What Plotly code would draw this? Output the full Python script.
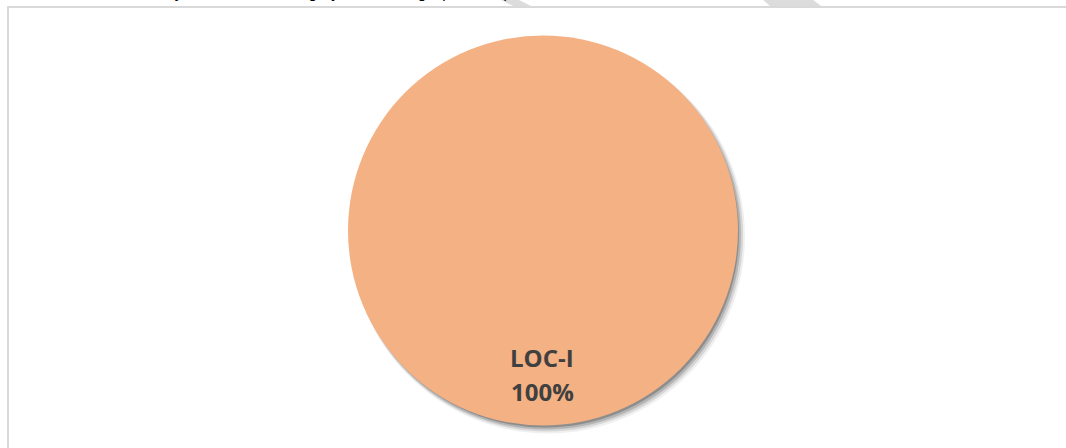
import plotly.graph_objects as go

# Data
categories = ["LOC-I"]
shares = [100]
pie_color = "#F4B183"
title_text = "Fatal Accidents by Occurrence Category - Percentage (2015-19)"

W, H = 1066, 448

def px(x):
    return x / W

def py(y):
    return 1 - y / H

cx, cy, r = 543, 230.5, 195

fig = go.Figure()

# soft drop shadow (layered copies of the same pie)
for dx, dy, dr, op in [(5, 6, 2, 0.08), (4, 5, 1, 0.14), (3, 4, 0, 0.22), (2, 3, -1, 0.32)]:
    rr = r + dr
    fig.add_trace(go.Pie(
        labels=categories, values=shares, sort=False,
        marker=dict(colors=["rgba(60,60,60,%.2f)" % op], line=dict(width=0)),
        textinfo="none", hoverinfo="skip", showlegend=False,
        domain=dict(x=[px(cx + dx - rr), px(cx + dx + rr)],
                    y=[py(cy + dy + rr), py(cy + dy - rr)]),
    ))

fig.add_trace(go.Pie(
    labels=categories, values=shares, sort=False,
    marker=dict(colors=[pie_color], line=dict(width=0)),
    textinfo="none", showlegend=False,
    domain=dict(x=[px(cx - r), px(cx + r)], y=[py(cy + r), py(cy - r)]),
))

total = sum(shares)
lab_font = dict(family="'Open Sans', Lato, sans-serif", size=24, color="#404040")
fig.add_annotation(x=px(542), y=py(376), xref="paper", yref="paper",
                   text="<b>%s</b>" % categories[0], showarrow=False, font=lab_font)
fig.add_annotation(x=px(542), y=py(410), xref="paper", yref="paper",
                   text="<b>%d%%</b>" % round(100 * shares[0] / total), showarrow=False, font=lab_font)

# cut-off title at the very top
fig.add_annotation(x=px(511), y=py(-8), xref="paper", yref="paper", xanchor="right",
                   yanchor="middle", text=title_text, showarrow=False,
                   font=dict(family="Liberation Sans, Arial", size=16, color="#000000"))

shapes = [
    # chart border
    dict(type="rect", xref="paper", yref="paper", x0=px(8), x1=px(1075), y0=py(460), y1=py(7),
         line=dict(color="#D9D9D9", width=2), fillcolor="rgba(0,0,0,0)", layer="below"),
    # watermark fragments
    dict(type="path", xref="paper", yref="paper",
         path="M %f %f L %f %f L %f %f L %f %f Z" % (px(499), py(-1), px(517), py(-1), px(531), py(6), px(513), py(6)),
         fillcolor="#DCDCDC", line=dict(width=0), layer="below"),
    dict(type="path", xref="paper", yref="paper",
         path="M %f %f L %f %f L %f %f L %f %f Z" % (px(762), py(-1), px(812), py(-1), px(821), py(6), px(770), py(6)),
         fillcolor="#DCDCDC", line=dict(width=0), layer="below"),
]

fig.update_layout(
    width=W, height=H,
    margin=dict(l=0, r=0, t=0, b=0),
    paper_bgcolor="white", plot_bgcolor="white",
    shapes=shapes,
    showlegend=False,
)

fig.write_html("out.html", config={"displayModeBar": False},
               post_script="document.body.style.margin='0';document.body.style.overflow='hidden';")
